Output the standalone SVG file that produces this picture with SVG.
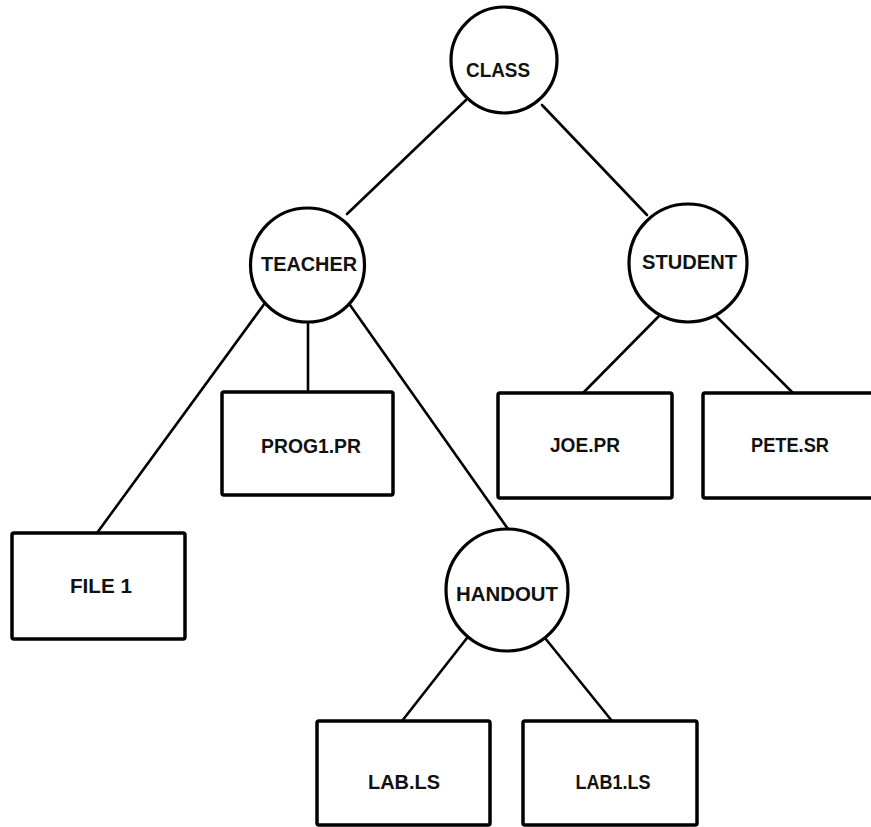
<svg xmlns="http://www.w3.org/2000/svg" width="871" height="827" viewBox="0 0 871 827">
  <style>
    .dir { fill: #fff; stroke: #000; stroke-width: 3.2; }
    .file { fill: #fff; stroke: #000; stroke-width: 3.5; }
    .lbl { font-family: "Liberation Sans", Arial, sans-serif; font-weight: bold; font-size: 20px; fill: #111; text-anchor: middle; }
    .edge { stroke: #000; stroke-width: 2.6; fill: none; stroke-linecap: round; }
  </style>
  <rect width="871" height="827" fill="#fff"/>

  <!-- connectors -->
  <g id="connectors" class="edge">
    <line x1="466" y1="100" x2="347" y2="214"/>
    <line x1="542" y1="105" x2="647" y2="215"/>
    <line x1="265" y1="303" x2="97" y2="533"/>
    <line x1="308" y1="322" x2="308" y2="392"/>
    <line x1="350" y1="305" x2="508" y2="529"/>
    <line x1="660" y1="315" x2="583" y2="393"/>
    <line x1="715" y1="315" x2="793" y2="393"/>
    <line x1="467" y1="638" x2="402" y2="721"/>
    <line x1="545" y1="638" x2="612" y2="721"/>
  </g>

  <!-- directories -->
  <g id="class">
    <circle class="dir" cx="504" cy="60" r="53"/>
    <text class="lbl" x="498" y="77" textLength="64" lengthAdjust="spacingAndGlyphs">CLASS</text>
  </g>
  <g id="teacher">
    <circle class="dir" cx="307.5" cy="265" r="57"/>
    <text class="lbl" x="309" y="271" textLength="96" lengthAdjust="spacingAndGlyphs">TEACHER</text>
  </g>
  <g id="student">
    <circle class="dir" cx="688" cy="263" r="59"/>
    <text class="lbl" x="689.5" y="269" textLength="95" lengthAdjust="spacingAndGlyphs">STUDENT</text>
  </g>
  <g id="handout">
    <circle class="dir" cx="507" cy="590" r="61"/>
    <text class="lbl" x="507" y="601" textLength="102" lengthAdjust="spacingAndGlyphs">HANDOUT</text>
  </g>

  <!-- files -->
  <g id="prog1-pr">
    <rect class="file" x="222" y="392" width="171" height="103" rx="2"/>
    <text class="lbl" x="311" y="453" textLength="100" lengthAdjust="spacingAndGlyphs">PROG1.PR</text>
  </g>
  <g id="joe-pr">
    <rect class="file" x="498" y="393" width="174" height="105" rx="2"/>
    <text class="lbl" x="585" y="452" textLength="70" lengthAdjust="spacingAndGlyphs">JOE.PR</text>
  </g>
  <g id="pete-sr">
    <rect class="file" x="703" y="393" width="190" height="105" rx="2"/>
    <text class="lbl" x="790" y="452" textLength="78" lengthAdjust="spacingAndGlyphs">PETE.SR</text>
  </g>
  <g id="file-1">
    <rect class="file" x="12" y="533" width="173" height="106" rx="2"/>
    <text class="lbl" x="101" y="593" textLength="62" lengthAdjust="spacingAndGlyphs">FILE 1</text>
  </g>
  <g id="lab-ls">
    <rect class="file" x="317" y="721" width="173" height="104" rx="2"/>
    <text class="lbl" x="404" y="789" textLength="72" lengthAdjust="spacingAndGlyphs">LAB.LS</text>
  </g>
  <g id="lab1-ls">
    <rect class="file" x="523" y="721" width="174" height="104" rx="2"/>
    <text class="lbl" x="613" y="789" textLength="75" lengthAdjust="spacingAndGlyphs">LAB1.LS</text>
  </g>
</svg>
